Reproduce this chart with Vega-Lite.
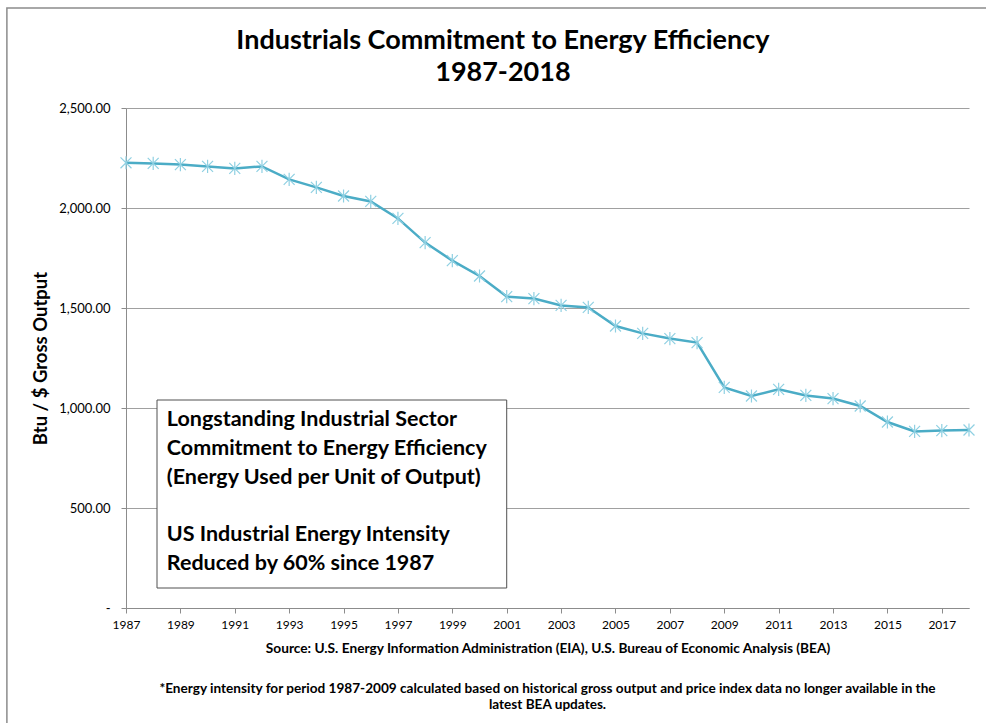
{
  "$schema": "https://vega.github.io/schema/vega-lite/v6.json",
  "width": 843,
  "height": 500,
  "autosize": "none",
  "padding": {"left": 126, "top": 108, "right": 17, "bottom": 115},
  "background": "white",
  "config": {"font": "Lato", "view": {"stroke": null}},
  "datasets": {
    "series": [
      {"year": 1987, "intensity": 2226},
      {"year": 1988, "intensity": 2223},
      {"year": 1989, "intensity": 2217},
      {"year": 1990, "intensity": 2208},
      {"year": 1991, "intensity": 2198},
      {"year": 1992, "intensity": 2208},
      {"year": 1993, "intensity": 2143},
      {"year": 1994, "intensity": 2103},
      {"year": 1995, "intensity": 2060},
      {"year": 1996, "intensity": 2033},
      {"year": 1997, "intensity": 1948},
      {"year": 1998, "intensity": 1827},
      {"year": 1999, "intensity": 1737},
      {"year": 2000, "intensity": 1660},
      {"year": 2001, "intensity": 1557},
      {"year": 2002, "intensity": 1547},
      {"year": 2003, "intensity": 1513},
      {"year": 2004, "intensity": 1503},
      {"year": 2005, "intensity": 1410},
      {"year": 2006, "intensity": 1373},
      {"year": 2007, "intensity": 1347},
      {"year": 2008, "intensity": 1327},
      {"year": 2009, "intensity": 1103},
      {"year": 2010, "intensity": 1060},
      {"year": 2011, "intensity": 1093},
      {"year": 2012, "intensity": 1063},
      {"year": 2013, "intensity": 1047},
      {"year": 2014, "intensity": 1010},
      {"year": 2015, "intensity": 930},
      {"year": 2016, "intensity": 883},
      {"year": 2017, "intensity": 887},
      {"year": 2018, "intensity": 890}
    ],
    "notes": [{"kind": "note"}]
  },
  "layer": [
    {
      "data": {"name": "series"},
      "mark": {"type": "line", "color": "#4bacc6", "strokeWidth": 2.5},
      "encoding": {
        "x": {
          "field": "year",
          "type": "quantitative",
          "scale": {"domain": [1987, 2018], "nice": false, "zero": false},
          "axis": {
            "title": "Source: U.S. Energy Information Administration (EIA), U.S. Bureau of Economic Analysis (BEA)",
            "titleFontSize": 13.7,
            "titleFontWeight": "bold",
            "titleColor": "black",
            "titlePadding": 11,
            "values": [1987,1988,1989,1990,1991,1992,1993,1994,1995,1996,1997,1998,1999,2000,2001,2002,2003,2004,2005,2006,2007,2008,2009,2010,2011,2012,2013,2014,2015,2016,2017,2018],
            "labelExpr": "datum.value % 2 == 1 ? '' + datum.value : ''",
            "labelOverlap": false,
            "labelFlush": false,
            "labelFontSize": 12,
            "labelColor": "black",
            "labelPadding": 6,
            "grid": false,
            "domainColor": "#8c8c8c",
            "tickColor": "#8c8c8c",
            "tickSize": 5
          }
        },
        "y": {
          "field": "intensity",
          "type": "quantitative",
          "scale": {"domain": [0, 2500], "nice": false},
          "axis": {
            "title": "Btu / $ Gross Output",
            "titleFontSize": 18.5,
            "titleFontWeight": "bold",
            "titleColor": "black",
            "titlePadding": 8,
            "values": [0, 500, 1000, 1500, 2000, 2500],
            "labelExpr": "datum.value == 0 ? '-' : format(datum.value, ',.2f')",
            "labelFontSize": 13,
            "labelColor": "black",
            "labelPadding": 11,
            "gridColor": "#a0a0a0",
            "domainColor": "#8c8c8c",
            "tickColor": "#8c8c8c",
            "tickSize": 5
          }
        }
      }
    },
    {
      "data": {"name": "series"},
      "mark": {
        "type": "point",
        "shape": "M-1,-1L1,1M-1,1L1,-1M0,-1.2L0,1.2",
        "filled": false,
        "stroke": "#8fd0e2",
        "strokeWidth": 1.2,
        "size": 120,
        "opacity": 1
      },
      "encoding": {
        "x": {"field": "year", "type": "quantitative"},
        "y": {"field": "intensity", "type": "quantitative"}
      }
    },
    {
      "data": {"name": "notes"},
      "mark": {"type": "rect", "fill": "white", "stroke": "#505050", "strokeWidth": 1},
      "encoding": {
        "x": {"datum": 1988.14, "type": "quantitative"},
        "x2": {"datum": 2001.0},
        "y": {"datum": 1040, "type": "quantitative"},
        "y2": {"datum": 100}
      }
    },
    {
      "data": {"name": "notes"},
      "mark": {
        "type": "text",
        "text": ["Longstanding Industrial Sector", "Commitment to Energy Efficiency", "(Energy Used per Unit of Output)"],
        "align": "left",
        "baseline": "top",
        "fontSize": 21.5,
        "fontWeight": "bold",
        "lineHeight": 29,
        "color": "black"
      },
      "encoding": {
        "x": {"datum": 1988.5, "type": "quantitative"},
        "y": {"datum": 995, "type": "quantitative"}
      }
    },
    {
      "data": {"name": "notes"},
      "mark": {
        "type": "text",
        "text": ["US Industrial Energy Intensity", "Reduced by 60% since 1987"],
        "align": "left",
        "baseline": "top",
        "fontSize": 21.5,
        "fontWeight": "bold",
        "lineHeight": 29,
        "color": "black"
      },
      "encoding": {
        "x": {"datum": 1988.5, "type": "quantitative"},
        "y": {"datum": 420, "type": "quantitative"}
      }
    },
    {
      "data": {"name": "notes"},
      "mark": {
        "type": "text",
        "text": ["*Energy intensity for period 1987-2009 calculated based on historical gross output and price index data no longer available in the", "latest BEA updates."],
        "align": "center",
        "baseline": "middle",
        "fontSize": 13.6,
        "fontWeight": "bold",
        "lineHeight": 15.5,
        "color": "black"
      },
      "encoding": {
        "x": {"datum": 2002.5, "type": "quantitative"},
        "y": {"datum": -405, "type": "quantitative"}
      }
    },
    {
      "data": {"name": "notes"},
      "mark": {
        "type": "text",
        "text": ["Industrials Commitment to Energy Efficiency", "1987-2018"],
        "align": "center",
        "baseline": "middle",
        "fontSize": 27,
        "fontWeight": "bold",
        "lineHeight": 32,
        "color": "black"
      },
      "encoding": {
        "x": {"datum": 2000.86, "type": "quantitative"},
        "y": {"datum": 2835, "type": "quantitative"}
      }
    },
    {
      "data": {"name": "notes"},
      "mark": {"type": "rect", "fill": null, "stroke": "#8c8c8c", "strokeWidth": 1.5},
      "encoding": {
        "x": {"datum": 1982.62, "type": "quantitative"},
        "x2": {"datum": 2030},
        "y": {"datum": 3000, "type": "quantitative"},
        "y2": {"datum": -1000}
      }
    }
  ]
}
